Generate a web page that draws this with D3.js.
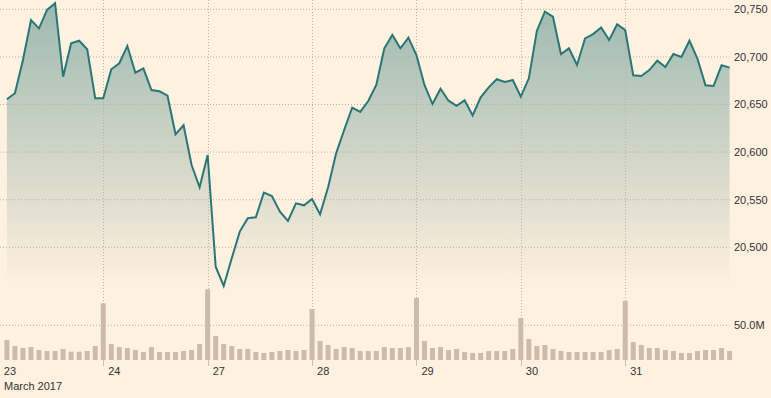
<!DOCTYPE html>
<html><head><meta charset="utf-8">
<script src="https://cdn.jsdelivr.net/npm/d3@7"></script>
<style>
html,body{margin:0;padding:0;background:#fff1e0;}
svg{display:block;}
text{font-family:"Liberation Sans",Arial,sans-serif;fill:#333;}
</style></head>
<body>
<svg id="chart" width="771" height="398"></svg>
<script>
// Price (intraday, index 0..90)
const prices = [
20655.5,20661.8,20696.7,20738.8,20730,20749.3,20756.3,20679.2,20714.3,20717,20708,20656.5,
20656.5,20687,20693.3,20711.5,20683.4,20688,20665.2,20663.9,20659.2,20618.7,20628.2,20586.4,20563,
20597,20479.6,20459.4,20488.4,20516.5,20530.5,20531.5,20557.4,20553.9,20537.4,20527.6,20546.2,20544.1,
20550.7,20534.7,20563,20598.7,20623.2,20646.6,20642.2,20653.7,20670.5,20709,20723,20709,20720.2,
20702,20670.5,20650.5,20666.6,20654,20648.7,20654.4,20638.6,20657.6,20668,20676.5,20673.6,20675.7,
20658.2,20677.5,20727.5,20747.5,20742.2,20703,20709,20691.5,20719.5,20724,20731,20717.8,20734.2,
20728.3,20680.7,20680,20686.2,20696,20689.4,20703,20699.9,20717,20698,20670.2,20669.4,20691.2,20688.7
];
// Volume in millions
const volumes = [
28.8,20.2,17.3,18.7,14.4,13,13,15.9,12,12,13,20.2,
81.7,23,18.7,17.3,14.4,11.5,18.7,11.5,11.5,11.5,13,14.4,23,
101.9,34.6,23,20.2,15.9,15.9,11.5,10.1,11.5,13,14.4,13,14.4,
73.5,27.4,21.6,15.9,18.7,17.3,13,13,13,18.7,17.3,17.3,18.7,
89.4,27.4,17.3,18.7,14.4,15.9,11.5,10.1,10.1,13,13,13,15.9,
60.5,30.3,20.2,21.6,15.9,13,11.5,11.5,11.5,11.5,11.5,14.4,15.9,
85,25.9,21.6,17.3,17.3,14.4,13,10.1,10.1,13,14.4,14.4,17.3,13
];
const priceTicks = [20500,20550,20600,20650,20700,20750];
const volumeTicks = [50];
const dayLabels = ["23","24","27","28","29","30","31"];
const dayIndex = [-1,12,25,38,51,64,77];
const monthLabel = "March 2017";

const svg = d3.select("#chart");
const plotLeft = 0, plotRight = 729.6;
const x = d3.scaleLinear().domain([0, prices.length-1]).range([6.9, 729.6]);
const y = d3.scaleLinear().domain([20500, 20750]).range([247.3, 9.3]);
const yv = d3.scaleLinear().domain([0, 50]).range([360, 325.3]);

// gradient
const defs = svg.append("defs");
const grad = defs.append("linearGradient").attr("id","ag")
  .attr("gradientUnits","userSpaceOnUse").attr("x1",0).attr("x2",0).attr("y1",0).attr("y2",290);
grad.append("stop").attr("offset","0%").attr("stop-color","#9cb9b1");
grad.append("stop").attr("offset","55%").attr("stop-color","#d3d6c8");
grad.append("stop").attr("offset","100%").attr("stop-color","#fff1e0");

const area = d3.area().x((d,i)=>x(i)).y0(290).y1(d=>y(d));
svg.append("path").datum(prices).attr("d",area).attr("fill","url(#ag)");

// horizontal gridlines
const gridColor = "#b9b0a6";
svg.append("g").selectAll("line").data(priceTicks).join("line")
  .attr("x1",plotLeft).attr("x2",plotRight).attr("y1",d=>y(d)).attr("y2",d=>y(d))
  .attr("stroke",gridColor).attr("stroke-width",1).attr("stroke-dasharray","1,2");
svg.append("g").selectAll("line").data(volumeTicks).join("line")
  .attr("x1",plotLeft).attr("x2",plotRight).attr("y1",d=>yv(d)).attr("y2",d=>yv(d))
  .attr("stroke",gridColor).attr("stroke-width",1).attr("stroke-dasharray","1,2");

// vertical day gridlines
svg.append("g").selectAll("line").data(dayIndex.slice(1)).join("line")
  .attr("x1",d=>Math.round(x(d))+0.5).attr("x2",d=>Math.round(x(d))+0.5)
  .attr("y1",0).attr("y2",360)
  .attr("stroke",gridColor).attr("stroke-width",1).attr("stroke-dasharray","1,2");

// volume bars
const bw = 5;
svg.append("g").selectAll("rect").data(volumes).join("rect")
  .attr("x",(d,i)=>x(i)-bw/2).attr("width",bw)
  .attr("y",d=>yv(d)).attr("height",d=>yv(0)-yv(d))
  .attr("fill","#cdbba9");

// price line
const line = d3.line().x((d,i)=>x(i)).y(d=>y(d));
svg.append("path").datum(prices).attr("d",line)
  .attr("fill","none").attr("stroke","#2a7677").attr("stroke-width",2)
  .attr("stroke-linejoin","miter");

// ticks below
svg.append("g").selectAll("line").data(dayIndex.slice(1)).join("line")
  .attr("x1",d=>Math.round(x(d))+0.5).attr("x2",d=>Math.round(x(d))+0.5)
  .attr("y1",360).attr("y2",366).attr("stroke","#c9c0b6").attr("stroke-width",1);

// day labels
svg.append("g").selectAll("text").data(dayLabels).join("text")
  .attr("x",(d,i)=>x(dayIndex[i])+5).attr("y",375)
  .attr("font-size",11).text(d=>d);
svg.append("text").attr("x",4).attr("y",390).attr("font-size",11).text(monthLabel);

// right axis labels
const fmt = d3.format(",");
svg.append("g").selectAll("text").data(priceTicks).join("text")
  .attr("x",734).attr("y",d=>y(d)).attr("dy","0.35em")
  .attr("font-size",11).text(d=>fmt(d));
svg.append("g").selectAll("text").data(volumeTicks).join("text")
  .attr("x",734).attr("y",d=>yv(d)).attr("dy","0.35em")
  .attr("font-size",11).text(d=>d.toFixed(1)+"M");
</script>
</body></html>
